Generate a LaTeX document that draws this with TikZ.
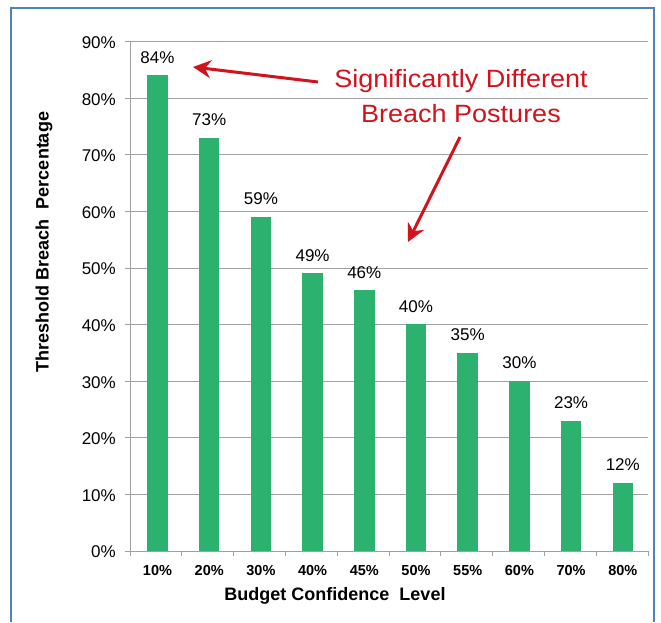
\documentclass[tikz,border=0pt]{standalone}
\usepackage{fontspec}
\setmainfont{Liberation Sans}
\usetikzlibrary{arrows.meta}
\definecolor{bargreen}{RGB}{44,178,110}
\definecolor{gridgray}{RGB}{160,160,160}
\definecolor{annred}{RGB}{210,18,28}
\definecolor{frameblue}{RGB}{79,129,189}
\begin{document}
\begin{tikzpicture}[x=1pt,y=-1pt,
  gridline/.style={gridgray,line width=0.9pt},
  axisline/.style={gridgray,line width=1pt},
  barbox/.style={fill=bargreen,draw=none,inner sep=0pt,minimum width=20.5pt,anchor=south},
  ytick/.style={font=\fontsize{17}{17}\selectfont,anchor=east,inner sep=0pt,text=black},
  xtick/.style={font=\bfseries\fontsize{14.5}{14.5}\selectfont,anchor=base,inner sep=0pt,text=black},
  vallabel/.style={font=\fontsize{17}{17}\selectfont,anchor=base,inner sep=0pt,text=black},
  axtitle/.style={font=\bfseries\fontsize{18}{18}\selectfont,inner sep=0pt,text=black},
  anntext/.style={font=\fontsize{25}{25}\selectfont,text=annred,anchor=base,inner sep=0pt,xscale=1.08},
  annarrow/.style={annred,line width=3pt,-{Stealth[length=18pt,width=18pt,inset=6pt]}}
]
\useasboundingbox (0,0) rectangle (661,622);
\fill[white] (0,0) rectangle (661,622);
% frame
\draw[frameblue,line width=1.6pt] (11,622) -- (11,8) -- (654,8) -- (654,622);
% grid
\foreach \k in {1,...,9}{
  \draw[gridline] (125,{551-\k*56.6}) -- (648,{551-\k*56.6});
}
\foreach \k in {0,...,9}{
  \draw[axisline] (125,{551-\k*56.6}) -- (130,{551-\k*56.6});
  \pgfmathtruncatemacro\pc{\k*10}
  \node[ytick] (yt\k) at (116,{552-\k*56.6}) {\pc\%};
}
% axes
\draw[axisline] (130,41) -- (130,551);
\draw[axisline] (130,551) -- (648,551);
\foreach \k in {0,...,10}{
  \draw[axisline] ({130+\k*51.8},551) -- ({130+\k*51.8},556);
}
% bars
\foreach \v/\lab [count=\i from 0] in {84/10,73/20,59/30,49/40,46/45,40/50,35/55,30/60,23/70,12/80}{
  \pgfmathsetmacro\cx{157.5+\i*51.7}
  \pgfmathsetmacro\h{\v*5.66}
  \node[barbox,minimum height=\h pt] (bar\i) at (\cx,551) {};
  \node[vallabel] (val\i) at (\cx,{551-\h-12.5}) {\v\%};
  \node[xtick] (xl\i) at (\cx,575) {\lab\%};
}
% axis titles
\node[axtitle] (xtitle) at (335,596) {Budget Confidence\ \ Level};
\node[axtitle,rotate=90] (ytitle) at (44,242) {Threshold Breach\ \ Percentage};
% annotation
\node[anntext] (sig1) at (461,87) {Significantly Different};
\node[anntext] (sig2) at (461,122) {Breach Postures};
\coordinate (a1tail) at (318,82);
\coordinate (a1head) at (193,67);
\coordinate (a2tail) at (460,137);
\coordinate (a2head) at (408,242);
\draw[annarrow] (a1tail) -- (a1head);
\draw[annarrow] (a2tail) -- (a2head);
\end{tikzpicture}
\end{document}
